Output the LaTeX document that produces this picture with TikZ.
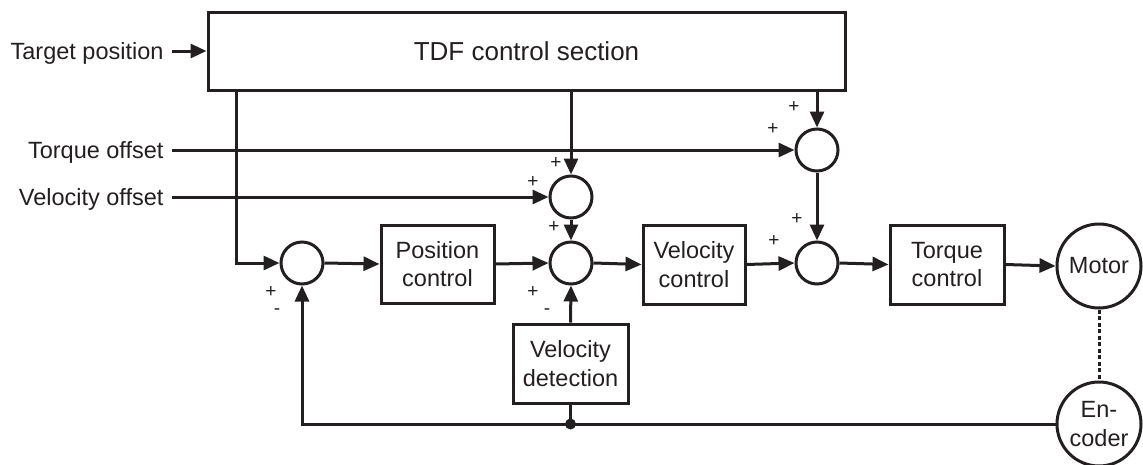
\documentclass[tikz,border=0pt]{standalone}
\usepackage{fontspec}
\setmainfont{Liberation Sans}
\usetikzlibrary{arrows.meta}
\definecolor{ink}{HTML}{231F20}
\begin{document}
\begin{tikzpicture}[x=1pt,y=-1pt, line width=3pt, color=ink,
  every node/.style={font=\fontsize{23.5}{28.5}\selectfont, text=ink},
  blk/.style={draw, rectangle, align=center, inner sep=0pt},
  sum/.style={draw, circle, minimum size=42pt, inner sep=0pt},
  big/.style={draw, circle, minimum size=84pt, inner sep=0pt, align=center},
  lbl/.style={anchor=east, inner sep=0pt, text height=17pt, text depth=0pt},
  arr/.style={-{Triangle[length=16pt,width=14pt]}},
  sgn/.style={font=\fontsize{19}{19}\selectfont, inner sep=0pt, text height=10pt, text depth=0pt},
  dsh/.style={dash pattern=on 4pt off 2.5pt}]
\useasboundingbox (0,0) rectangle (1143,464);

% blocks
\node[blk, minimum width=637pt, minimum height=78pt, font=\fontsize{26}{30}\selectfont] (tdf) at (526.5,51) {TDF control section};
\node[blk, minimum width=113pt, minimum height=78pt] (pc) at (437.5,264) {Position\\control};
\node[blk, minimum width=102pt, minimum height=79pt] (vc) at (694,264.5) {Velocity\\control};
\node[blk, minimum width=114pt, minimum height=79pt] (tc) at (947,264.5) {Torque\\control};
\node[blk, minimum width=115pt, minimum height=79pt] (vd) at (570.5,363.5) {Velocity\\detection};

% summing junctions
\node[sum] (s1) at (302,263) {};
\node[sum] (s2) at (571,197) {};
\node[sum] (s3) at (571,263) {};
\node[sum] (ts) at (817,150) {};
\node[sum] (s4) at (817,263) {};

% motor and encoder
\node[big] (mot) at (1099,266) {Motor};
\node[big] (enc) at (1099,424) {En-\\coder};

% input labels
\node[lbl] (tp) at (165,51) {Target position};
\node[lbl] (to) at (165,150) {Torque offset};
\node[lbl] (vo) at (165,197) {Velocity offset};

% connectors
\coordinate (c1) at (236,0);
\draw[arr] ([xshift=7pt]tp.east) -- (tdf.west);
\draw[arr] ([xshift=7pt]to.east) -- (ts.west);
\draw[arr] ([xshift=7pt]vo.east) -- (s2.west);
\draw[arr] (tdf.south -| c1) |- (s1.west);
\draw[arr] (tdf.south -| s2.north) -- (s2.north);
\draw[arr] (tdf.south -| ts.north) -- (ts.north);
\draw[arr] (s1.east) -- (pc.west);
\draw[arr] (pc.east) -- (s3.west);
\draw[arr] (s2.south) -- (s3.north);
\draw[arr] (s3.east) -- (vc.west);
\draw[arr] (vc.east) -- (s4.west);
\draw[arr] (ts.south) -- (s4.north);
\draw[arr] (s4.east) -- (tc.west);
\draw[arr] (tc.east) -- (mot.west);
\draw[dsh] (mot.south) -- (enc.north);
\coordinate (jn) at (vd.south |- enc.west);
\draw[arr] (enc.west) -| (s1.south);
\draw (vd.south) -- (jn);
\fill (jn) circle (5.5);
\draw[arr] (vd.north) -- (s3.south);

% signs
\node[sgn] (p1) at (271,292) {+};
\node[sgn] (m1) at (277,309) {-};
\node[sgn] (p2) at (556,163) {+};
\node[sgn] (p3) at (533,182) {+};
\node[sgn] (p4) at (554,227) {+};
\node[sgn] (p5) at (533,292) {+};
\node[sgn] (m2) at (547,309) {-};
\node[sgn] (p6) at (794,107) {+};
\node[sgn] (p7) at (773,129) {+};
\node[sgn] (p8) at (797,219) {+};
\node[sgn] (p9) at (774,241) {+};
\end{tikzpicture}
\end{document}
